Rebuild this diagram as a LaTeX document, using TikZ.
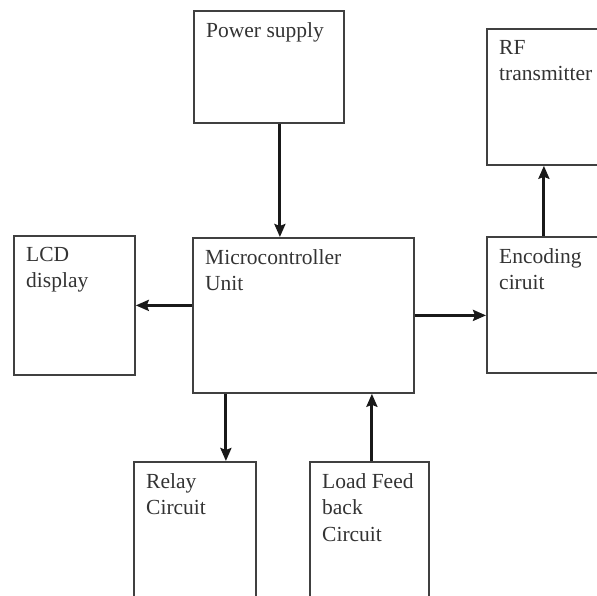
\documentclass[tikz,border=0pt]{standalone}
\usepackage{fontspec}
\setmainfont{Liberation Serif}
\usetikzlibrary{arrows.meta}

\begin{document}
\begin{tikzpicture}[
        x=1pt, y=-1pt,
        box/.style={rectangle, draw=black!75, line width=1.8pt, anchor=north west,
                    inner sep=0pt},
        txt/.style={anchor=north west, align=left, inner sep=0pt, text=black!80,
                    font=\fontsize{21.5}{26.5}\selectfont, xshift=13pt, yshift=-12pt},
        arrow/.style={-{Stealth[length=13pt, width=11pt, inset=2pt]}, line width=3pt, black!90},
    ]
    \useasboundingbox (0,0) rectangle (597,596);
    \clip (0,0) rectangle (597,596);

    % alimentation (haut)
    \node[box, minimum width=150pt, minimum height=112pt,
          label={[txt]north west:Power supply}] (power) at (193,10) {};

    % microcontroleur (centre)
    \node[box, minimum width=221pt, minimum height=155pt,
          label={[txt]north west:Microcontroller\\Unit}] (mcu) at (192,237) {};

    % afficheur (gauche)
    \node[box, minimum width=121pt, minimum height=139pt,
          label={[txt]north west:LCD\\display}] (lcd) at (13,235) {};

    % emetteur et codage (droite)
    \node[box, minimum width=114pt, minimum height=136pt,
          label={[txt]north west:RF\\transmitter}] (rf) at (486,28) {};
    \node[box, minimum width=114pt, minimum height=136pt,
          label={[txt]north west:Encoding\\ciruit}] (enc) at (486,236) {};

    % relais et retour de charge (bas)
    \node[box, minimum width=122pt, minimum height=200pt,
          label={[txt]north west:Relay\\Circuit}] (relay) at (133,461) {};
    \node[box, minimum width=119pt, minimum height=200pt,
          label={[txt]north west:Load Feed\\back\\Circuit}] (load) at (309,461) {};

    % fleches
    \draw[arrow] ([xshift=11pt]power.south) -- ([xshift=11pt]power.south |- mcu.north);
    \draw[arrow] (mcu.west |- lcd.east) -- (lcd.east);
    \draw[arrow] (mcu.east) -- (mcu.east -| enc.west);
    \draw[arrow] (enc.north) -- (rf.south);
    \draw[arrow] ([xshift=-77.5pt]mcu.south) -- ([xshift=-77.5pt]mcu.south |- relay.north);
    \draw[arrow] ([xshift=2.5pt]load.north) -- ([xshift=2.5pt]load.north |- mcu.south);

\end{tikzpicture}
\end{document}
